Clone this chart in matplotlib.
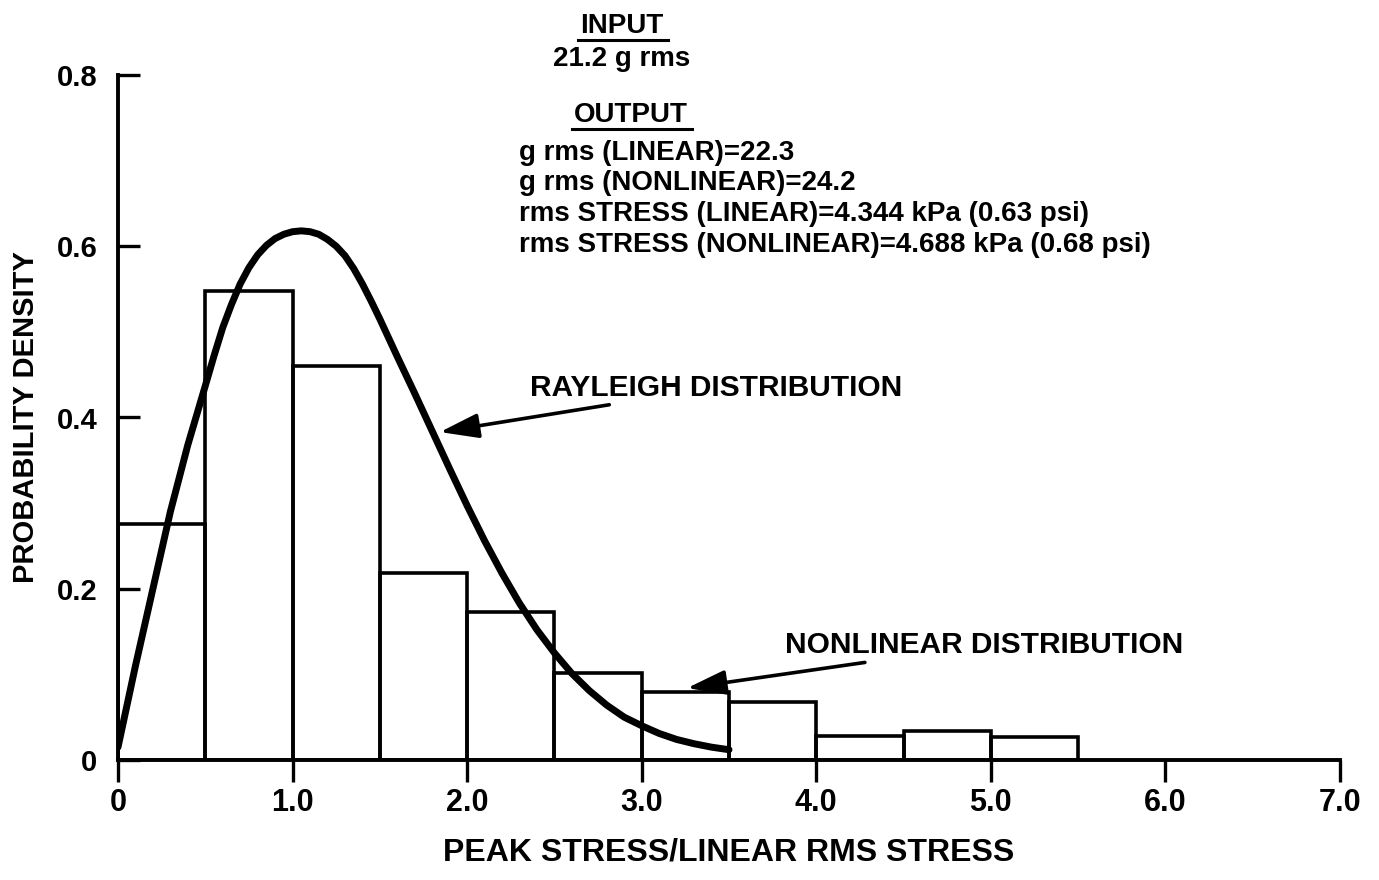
import matplotlib
matplotlib.use("Agg")
import matplotlib.pyplot as plt
from matplotlib import font_manager

# ---- data ----
bin_edges = [0.0, 0.5, 1.0, 1.5, 2.0, 2.5, 3.0, 3.5, 4.0, 4.5, 5.0, 5.5]
nonlinear_density = [0.276, 0.548, 0.460, 0.218, 0.173, 0.102, 0.079, 0.068, 0.028, 0.034, 0.027]

rayleigh_x = [0.0, 0.1, 0.2, 0.3, 0.4, 0.5, 0.55, 0.6, 0.65, 0.7, 0.75, 0.8, 0.85,
              0.9, 0.95, 1.0, 1.05, 1.1, 1.15, 1.2, 1.25, 1.3, 1.35, 1.4, 1.45,
              1.5, 1.55, 1.6, 1.7, 1.8, 1.9, 2.0, 2.1, 2.2, 2.3, 2.4, 2.5, 2.6,
              2.7, 2.8, 2.9, 3.0, 3.1, 3.2, 3.3, 3.4, 3.5]
rayleigh_y = [0.015, 0.110, 0.200, 0.290, 0.368, 0.437, 0.472, 0.505, 0.532, 0.556,
              0.575, 0.590, 0.601, 0.609, 0.614, 0.617, 0.618, 0.617, 0.614, 0.608,
              0.600, 0.589, 0.574, 0.556, 0.536, 0.515, 0.493, 0.471, 0.428, 0.384,
              0.340, 0.297, 0.256, 0.218, 0.183, 0.152, 0.125, 0.101, 0.081, 0.064,
              0.050, 0.040, 0.031, 0.024, 0.019, 0.015, 0.012]

x_ticks = [0, 1, 2, 3, 4, 5, 6, 7]
x_tick_labels = ["0", "1.0", "2.0", "3.0", "4.0", "5.0", "6.0", "7.0"]
y_ticks = [0, 0.2, 0.4, 0.6, 0.8]
y_tick_labels = ["0", "0.2", "0.4", "0.6", "0.8"]

input_title = "INPUT"
input_lines = ["21.2 g rms"]
output_title = "OUTPUT"
output_lines = ["g rms (LINEAR)=22.3",
                "g rms (NONLINEAR)=24.2",
                "rms STRESS (LINEAR)=4.344 kPa (0.63 psi)",
                "rms STRESS (NONLINEAR)=4.688 kPa (0.68 psi)"]

# ---- fonts ----
available = {f.name for f in font_manager.fontManager.ttflist}
narrow = "Liberation Sans Narrow" if "Liberation Sans Narrow" in available else "Liberation Sans"
wide = "Liberation Sans"

fig = plt.figure(figsize=(13.79, 8.80), dpi=100)
ax = fig.add_axes([118 / 1379, 1 - 760 / 880, (1340 - 118) / 1379, (760 - 75) / 880])

# histogram outlines
for i in range(len(nonlinear_density)):
    ax.bar(bin_edges[i], nonlinear_density[i], width=bin_edges[i + 1] - bin_edges[i],
           align="edge", fill=False, edgecolor="black", linewidth=2.6)

# Rayleigh curve
ax.plot(rayleigh_x, rayleigh_y, color="black", linewidth=5.0, solid_capstyle="round",
        solid_joinstyle="round")

ax.set_xlim(0, 7)
ax.set_ylim(0, 0.8)
for s in ["top", "right"]:
    ax.spines[s].set_visible(False)
for s in ["left", "bottom"]:
    ax.spines[s].set_linewidth(2.8)

ax.set_xticks(x_ticks)
ax.set_xticklabels(x_tick_labels, fontfamily=narrow, fontweight="bold", fontsize=22)
ax.set_yticks(y_ticks)
ax.set_yticklabels(y_tick_labels, fontfamily=wide, fontweight="bold", fontsize=21)
ax.tick_params(axis="x", direction="out", length=16, width=2.4, pad=4)
ax.tick_params(axis="y", direction="in", length=16, width=2.4, pad=15)

ax.set_xlabel("PEAK STRESS/LINEAR RMS STRESS", fontfamily=narrow, fontweight="bold",
              fontsize=23, labelpad=14)
ax.set_ylabel("PROBABILITY DENSITY", fontfamily=narrow, fontweight="bold",
              fontsize=21, labelpad=12)

# annotations
ax.annotate("RAYLEIGH DISTRIBUTION", xy=(1.844, 0.383), xytext=(2.36, 0.435),
            fontfamily=wide, fontweight="bold", fontsize=21.5, va="center", ha="left",
            arrowprops=dict(arrowstyle="-|>,head_length=1.1,head_width=0.35",
                            color="black", lw=2.6, shrinkA=2, shrinkB=0))
ax.annotate("NONLINEAR DISTRIBUTION", xy=(3.26, 0.084), xytext=(3.82, 0.134),
            fontfamily=wide, fontweight="bold", fontsize=21.5, va="center", ha="left",
            arrowprops=dict(arrowstyle="-|>,head_length=1.1,head_width=0.35",
                            color="black", lw=2.6, shrinkA=2, shrinkB=0))

# info text block (figure pixel placement)
def fy(p):
    return 1 - p / 880

def fx(p):
    return p / 1379

txt_kw = dict(fontfamily=narrow, fontweight="bold", fontsize=20, va="center")
fig.text(fx(622), fy(26), input_title, ha="center", **txt_kw)
fig.lines.append(plt.Line2D([fx(578), fx(668)], [fy(40), fy(40)], color="black", lw=2.2,
                            transform=fig.transFigure))
fig.text(fx(622), fy(59), input_lines[0], ha="center", **txt_kw)
fig.text(fx(631), fy(115), output_title, ha="center", **txt_kw)
fig.lines.append(plt.Line2D([fx(572), fx(692)], [fy(129), fy(129)], color="black", lw=2.2,
                            transform=fig.transFigure))
for i, line in enumerate(output_lines):
    fig.text(fx(519), fy(153 + 30.5 * i), line, ha="left", **txt_kw)

fig.savefig("out.png", dpi=100, facecolor="white")
